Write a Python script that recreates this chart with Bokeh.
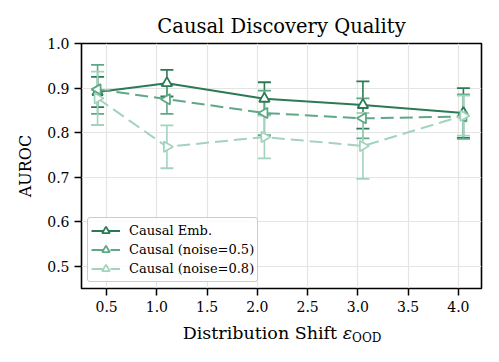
from bokeh.plotting import figure
from bokeh.layouts import column
from bokeh.models import (ColumnDataSource, Whisker, TeeHead, Legend, LegendItem,
                          FixedTicker, PrintfTickFormatter, Div)
from bokeh.embed import file_html
from bokeh.resources import INLINE

x = [0.41, 1.10, 2.07, 3.05, 4.05]
emb = [0.891, 0.911, 0.876, 0.862, 0.844]
emb_err = [0.034, 0.030, 0.037, 0.053, 0.056]
n05 = [0.897, 0.875, 0.844, 0.832, 0.836]
n05_err = [0.055, 0.033, 0.050, 0.045, 0.050]
n08 = [0.877, 0.768, 0.790, 0.770, 0.838]
n08_err = [0.060, 0.048, 0.048, 0.074, 0.045]
labels = ["Causal Emb.", "Causal (noise=0.5)", "Causal (noise=0.8)"]
colors = ["#2b7a56", "#5fa886", "#a3d3be"]
x_ticks = [0.5, 1.0, 1.5, 2.0, 2.5, 3.0, 3.5, 4.0]
y_ticks = [0.5, 0.6, 0.7, 0.8, 0.9, 1.0]
title = "Causal Discovery Quality"
ylabel = "AUROC"
xlabel_main = "Distribution Shift"
xlabel_sym = "\u03b5"
xlabel_sub = "OOD"

FONT = "DejaVu Serif"

p = figure(width=483, height=318, output_backend="svg", toolbar_location=None,
           x_range=(0.25, 4.23), y_range=(0.45, 1.0),
           min_border_left=81, min_border_right=2, min_border_top=43, min_border_bottom=30,
           title=title)
p.title.text_font = FONT
p.title.text_font_size = "19.5px"
p.title.text_font_style = "normal"
p.title.text_color = "black"
p.title.align = "center"
p.title.offset = 0
p.title.standoff = 11

p.outline_line_color = "black"
p.outline_line_width = 1.6
p.outline_line_alpha = 1

for ax in (p.xaxis[0], p.yaxis[0]):
    ax.axis_line_color = None
    ax.major_tick_line_color = "black"
    ax.major_tick_line_width = 1.5
    ax.major_tick_out = 7
    ax.major_tick_in = 0
    ax.minor_tick_line_color = None
    ax.major_label_text_font = FONT
    ax.major_label_text_font_size = "14px"
    ax.major_label_text_color = "black"
    ax.major_label_standoff = 5
    ax.axis_label_text_font = FONT
    ax.axis_label_text_font_size = "16px"
    ax.axis_label_text_font_style = "normal"
    ax.axis_label_text_color = "black"

p.xaxis.ticker = FixedTicker(ticks=x_ticks)
p.yaxis.ticker = FixedTicker(ticks=y_ticks)
p.xaxis.formatter = PrintfTickFormatter(format="%.1f")
p.yaxis.formatter = PrintfTickFormatter(format="%.1f")
p.yaxis.axis_label = ylabel
p.yaxis.axis_label_standoff = 9

p.grid.grid_line_color = "#e4e4e4"
p.grid.grid_line_alpha = 1
p.grid.grid_line_width = 1.2

dashes = ["solid", "13 6", "13 6"]
angles = [0, 1.5708, -1.5708]

items = []
for i, (vals, errs) in enumerate([(emb, emb_err), (n05, n05_err), (n08, n08_err)]):
    c = colors[i]
    src = ColumnDataSource(dict(x=x, y=vals,
                                lo=[v - e for v, e in zip(vals, errs)],
                                hi=[v + e for v, e in zip(vals, errs)]))
    w = Whisker(source=src, base="x", upper="hi", lower="lo", dimension="height",
                line_color=c, line_width=1.6,
                upper_head=TeeHead(size=13, line_color=c, line_width=1.8),
                lower_head=TeeHead(size=13, line_color=c, line_width=1.8))
    p.add_layout(w)
    ln = p.line("x", "y", source=src, line_color=c, line_width=2.0, line_dash=dashes[i])
    mk = p.scatter("x", "y", source=src, marker="triangle", size=10.5, angle=angles[i],
                   line_color=c, line_width=1.8, fill_color="white")
    items.append(LegendItem(label=labels[i], renderers=[ln, mk]))

legend = Legend(items=items, location="bottom_left")
legend.label_text_font = FONT
legend.label_text_font_size = "13px"
legend.label_text_color = "black"
legend.label_height = 19
legend.glyph_height = 19
legend.glyph_width = 29
legend.label_standoff = 9
legend.spacing = 0
legend.padding = 3
legend.margin = 6
legend.border_line_color = "#cccccc"
legend.border_line_width = 1.6
legend.border_line_alpha = 1
legend.border_radius = 3
legend.background_fill_alpha = 0.85
p.add_layout(legend)

# x-axis label with subscript, as HTML text below the chart
label_html = (f'<span style="font-family:\'{FONT}\';font-size:17.5px;color:black;">'
              f'{xlabel_main} <i>{xlabel_sym}</i>'
              f'<sub style="font-size:12px;vertical-align:-3px;">{xlabel_sub}</sub></span>')
xl = Div(text=label_html, width=402, height=28, margin=(0, 0, 0, 81),
         styles={"text-align": "center", "line-height": "31px", "white-space": "nowrap"})

layout = column(p, xl, spacing=0)
open("out.html", "w").write(file_html(layout, INLINE))
